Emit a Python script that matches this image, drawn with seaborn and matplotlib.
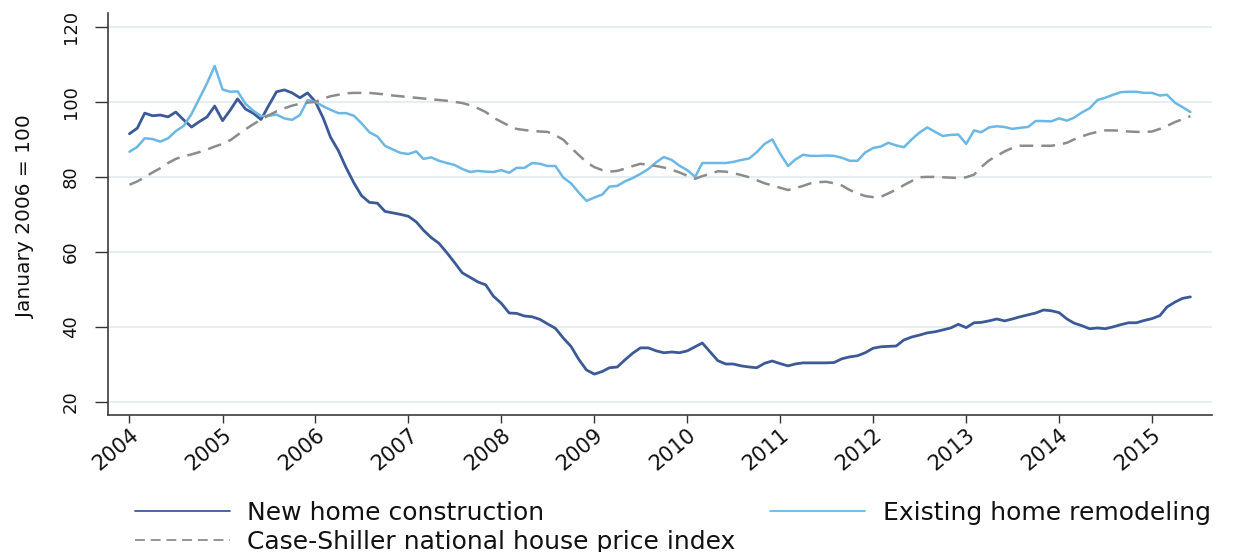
import pandas as pd
import seaborn as sns
import matplotlib.pyplot as plt

# monthly index values, January 2006 = 100
months = pd.date_range('2004-01-01', periods=138, freq='MS')

new_home = [
    91.5, 93.0, 97.0, 96.3, 96.5, 96.0, 97.3, 95.2, 93.3, 94.7, 96.0, 98.9,
    95.0, 97.9, 100.8, 98.1, 97.0, 95.3, 99.0, 102.7, 103.2, 102.4, 101.1, 102.4,
    100.0, 95.6, 90.6, 87.0, 82.5, 78.4, 75.0, 73.2, 73.0, 70.8, 70.4, 70.0,
    69.5, 68.0, 65.8, 63.8, 62.3, 59.8, 57.2, 54.4, 53.2, 52.0, 51.2, 48.2,
    46.3, 43.7, 43.6, 42.9, 42.7, 42.0, 40.8, 39.6, 37.0, 34.8, 31.3, 28.5,
    27.4, 28.1, 29.1, 29.3, 31.2, 33.0, 34.4, 34.4, 33.6, 33.1, 33.3, 33.1,
    33.6, 34.7, 35.7, 33.3, 31.0, 30.1, 30.1, 29.6, 29.3, 29.1, 30.3, 30.9,
    30.2, 29.6, 30.1, 30.4, 30.4, 30.4, 30.4, 30.5, 31.5, 32.0, 32.3, 33.1,
    34.3, 34.7, 34.8, 34.9, 36.5, 37.3, 37.8, 38.4, 38.7, 39.2, 39.7, 40.7,
    39.8, 41.1, 41.2, 41.6, 42.1, 41.6, 42.1, 42.7, 43.2, 43.7, 44.5, 44.3,
    43.8, 42.1, 41.0, 40.3, 39.5, 39.7, 39.5, 40.0, 40.6, 41.1, 41.1, 41.7,
    42.2, 43.0, 45.3, 46.6, 47.6, 48.0,
]

remodel = [
    86.7, 88.0, 90.3, 90.1, 89.4, 90.3, 92.2, 93.6, 96.8, 100.8, 105.0, 109.6,
    103.3, 102.7, 102.8, 99.5, 97.7, 96.2, 96.3, 96.6, 95.6, 95.2, 96.5, 100.5,
    100.0, 98.8, 97.9, 97.0, 97.0, 96.3, 94.3, 91.9, 90.8, 88.3, 87.3, 86.4,
    86.1, 86.8, 84.8, 85.2, 84.3, 83.7, 83.2, 82.1, 81.3, 81.6, 81.4, 81.3,
    81.8, 81.1, 82.4, 82.4, 83.7, 83.5, 82.9, 82.9, 79.8, 78.3, 75.8, 73.6,
    74.5, 75.3, 77.4, 77.6, 78.8, 79.7, 80.8, 82.1, 83.9, 85.3, 84.5, 83.0,
    81.8, 80.0, 83.7, 83.7, 83.7, 83.7, 84.0, 84.5, 84.9, 86.6, 88.8, 90.0,
    86.2, 82.9, 84.6, 85.9, 85.6, 85.6, 85.7, 85.6, 85.1, 84.3, 84.3, 86.5,
    87.7, 88.1, 89.1, 88.4, 87.9, 90.0, 91.8, 93.2, 92.0, 90.9, 91.2, 91.3,
    88.8, 92.4, 91.9, 93.2, 93.5, 93.3, 92.8, 93.1, 93.3, 94.9, 94.9, 94.8,
    95.6, 95.0, 95.8, 97.2, 98.3, 100.5, 101.1, 101.9, 102.6, 102.7, 102.7, 102.4,
    102.4, 101.7, 101.9, 99.8, 98.6, 97.3,
]

case_shiller = [
    77.9, 78.8, 79.9, 81.2, 82.3, 83.7, 84.8, 85.5, 86.0, 86.6, 87.3, 88.1,
    88.8, 89.8, 91.2, 92.7, 94.0, 95.3, 96.4, 97.5, 98.3, 99.0, 99.5, 99.8,
    100.0, 100.9, 101.5, 101.9, 102.3, 102.4, 102.4, 102.4, 102.2, 102.0, 101.7, 101.5,
    101.3, 101.1, 100.9, 100.7, 100.5, 100.3, 100.0, 99.7, 99.1, 98.3, 97.3, 95.8,
    94.7, 93.6, 92.8, 92.5, 92.3, 92.1, 92.0, 91.1, 89.9, 87.8, 85.8, 83.9,
    82.6, 81.8, 81.4, 81.6, 82.2, 82.9, 83.5, 83.2, 82.9, 82.5, 81.9, 81.2,
    80.3, 79.5, 80.2, 80.8, 81.5, 81.4, 81.0, 80.5, 79.9, 79.1, 78.3, 77.7,
    77.1, 76.5, 77.0, 77.6, 78.3, 78.6, 78.7, 78.3, 77.7, 76.5, 75.6, 74.9,
    74.6, 74.7, 75.6, 76.6, 77.8, 78.9, 79.9, 80.0, 80.0, 79.9, 79.8, 79.7,
    79.9, 80.6, 82.6, 84.4, 85.6, 86.8, 87.7, 88.3, 88.3, 88.3, 88.3, 88.3,
    88.6, 89.1, 90.0, 90.8, 91.5, 92.0, 92.4, 92.4, 92.3, 92.1, 92.0, 92.0,
    92.1, 92.8, 93.6, 94.6, 95.4, 96.2,
]

series_names = ['New home construction', 'Existing home remodeling',
                'Case-Shiller national house price index']
year_ticks = pd.date_range('2004-01-01', '2015-01-01', freq='YS')
y_ticks = [20, 40, 60, 80, 100, 120]


def main():
    sns.set_style('white')
    plt.rcParams['font.family'] = ['DejaVu Sans']

    df = pd.DataFrame({'month': months, 'new': new_home,
                       'remodel': remodel, 'cs': case_shiller})

    fig = plt.figure(figsize=(12.35, 5.52), dpi=100)
    ax = fig.add_axes([0.0875, 0.2482, 0.8939, 0.7282])

    # horizontal grid only, very light
    ax.set_axisbelow(True)
    ax.yaxis.grid(True, color='#e6eef2', lw=1.5)
    ax.xaxis.grid(False)

    sns.lineplot(data=df, x='month', y='new', color='#3c5a96', lw=2.0,
                 ax=ax, label=series_names[0])
    sns.lineplot(data=df, x='month', y='remodel', color='#6bb8e4', lw=1.8,
                 ax=ax, label=series_names[1])
    sns.lineplot(data=df, x='month', y='cs', color='#8c8c8c', lw=1.8,
                 ax=ax, label=series_names[2])
    ax.lines[-1].set_dashes((5.5, 3.2))

    ax.set_xlim(pd.Timestamp('2003-10-09'), pd.Timestamp('2015-08-25'))
    ax.set_ylim(16.5, 123.7)

    ax.set_xticks(year_ticks)
    ax.set_xticklabels([str(t.year) for t in year_ticks], rotation=40,
                       ha='right', va='top', rotation_mode='anchor')
    ax.set_yticks(y_ticks)
    ax.set_yticklabels([str(v) for v in y_ticks], rotation=90, va='center')

    ax.tick_params(axis='x', bottom=True, length=6, width=1, color='#333333',
                   pad=1, labelsize=15, labelcolor='#111111')
    ax.tick_params(axis='y', left=True, length=9.5, width=1, color='#333333',
                   pad=11, labelsize=13, labelcolor='#111111')

    ax.set_xlabel('')
    ax.set_ylabel('January 2006 = 100', fontsize=14.5, color='#111111')
    ax.yaxis.set_label_coords(-0.066, 0.4925)

    sns.despine(ax=ax)
    for side in ['left', 'bottom']:
        ax.spines[side].set_color('#3c3c3c')
        ax.spines[side].set_linewidth(1.2)

    # legend laid out like the original: two entries left, one right
    handles, labels = ax.get_legend_handles_labels()
    ax.get_legend().remove()
    leg_opts = dict(loc='upper left', frameon=False, fontsize=18,
                    handlelength=3.8, handletextpad=0.7, labelspacing=0.22,
                    borderpad=0, borderaxespad=0, labelcolor='#111111')
    leg1 = fig.legend([handles[0], handles[2]], [labels[0], labels[2]],
                      bbox_to_anchor=(0.109, 0.093), **leg_opts)
    leg2 = fig.legend([handles[1]], [labels[1]],
                      bbox_to_anchor=(0.6235, 0.093), **leg_opts)
    for leg in [leg1, leg2]:
        for line in leg.legend_handles:
            line.set_linewidth(1.3)

    plt.savefig('out.png', dpi=100)
    plt.close()


if __name__ == "__main__":
    main()
